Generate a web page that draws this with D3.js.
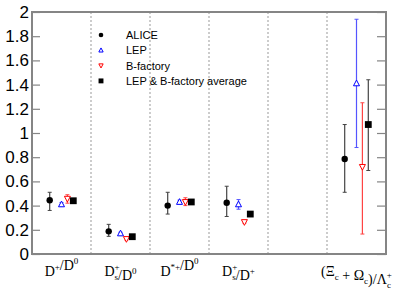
<!DOCTYPE html>
<html><head><meta charset="utf-8">
<script src="https://cdn.jsdelivr.net/npm/d3@7"></script>
<style>body{margin:0;background:#fff}</style>
</head><body><svg id="c" width="398" height="299"></svg>
<script>
const categories = ["D+/D0", "Ds+/D0", "D*+/D0", "Ds+/D+", "(Ξc+Ωc)/Λc+"];
const catSlot = [0, 1, 2, 3, 5];
const aliceVal = [0.444, 0.187, 0.40, 0.424, 0.785];
const aliceLo  = [0.36, 0.146, 0.33, 0.31, 0.51];
const aliceHi  = [0.51, 0.245, 0.51, 0.56, 1.07];
const lepVal = [0.41, 0.17, 0.43, 0.41, 1.41];
const lepLo  = [0.395, 0.16, 0.415, 0.37, 0.88];
const lepHi  = [0.425, 0.18, 0.445, 0.45, 1.94];
const bVal = [0.457, 0.124, 0.43, 0.264, 0.72];
const bLo  = [0.42, 0.115, 0.40, 0.255, 0.165];
const bHi  = [0.49, 0.135, 0.465, 0.275, 1.25];
const avgVal = [0.44, 0.143, 0.43, 0.33, 1.07];
const avgLo  = [0.432, 0.138, 0.422, 0.322, 0.69];
const avgHi  = [0.448, 0.148, 0.438, 0.338, 1.44];
const yTicks = [0, 0.2, 0.4, 0.6, 0.8, 1, 1.2, 1.4, 1.6, 1.8, 2];
const legendLabels = ["ALICE", "LEP", "B-factory", "LEP & B-factory average"];

const svg = d3.select("#c");
const L = 32, R = 386, T = 12, B = 254;
const x = d3.scaleLinear().domain([0, 6]).range([L, R]);
const y = d3.scaleLinear().domain([0, 2]).range([B, T]);
const frameCol = "#858585";

// dashed separators
svg.selectAll("line.sep").data([1,2,3,4,5]).join("line")
  .attr("x1", d => x(d)).attr("x2", d => x(d)).attr("y1", T).attr("y2", B)
  .attr("stroke", "#999").attr("stroke-width", 1).attr("stroke-dasharray", "2,2");

// axes ticks (left and mirrored right)
const gl = svg.append("g").attr("transform", `translate(${L},0)`);
gl.call(d3.axisRight(y).tickValues(d3.range(0, 2.001, 0.04)).tickSize(4).tickFormat(""));
gl.call(d3.axisRight(y).tickValues(yTicks).tickSize(8).tickFormat(""));
const gr = svg.append("g").attr("transform", `translate(${R},0)`);
gr.call(d3.axisLeft(y).tickValues(d3.range(0, 2.001, 0.04)).tickSize(4).tickFormat(""));
gr.call(d3.axisLeft(y).tickValues(yTicks).tickSize(9).tickFormat(""));
svg.selectAll(".domain").remove();
svg.selectAll(".tick line").attr("stroke", frameCol).attr("stroke-width", 1.2);

// frame
svg.append("rect").attr("x", L).attr("y", T).attr("width", R - L).attr("height", B - T)
  .attr("fill", "none").attr("stroke", frameCol).attr("stroke-width", 2);

// y labels
svg.selectAll("text.yl").data(yTicks).join("text")
  .attr("x", L - 3).attr("y", d => y(d) + 6)
  .attr("text-anchor", "end").attr("font-family", "Liberation Sans, Arial, sans-serif")
  .attr("font-size", 17).attr("fill", "#000")
  .text(d => d3.format("~g")(d));

// x labels (rich)
const serif = "Liberation Serif, Times New Roman, serif";
const xlab = [
  [["D",0],["+",1],["/D",0],["0",1]],
  [["D",0],["+",1,"s"],["/D",0],["0",1]],
  [["D",0],["*+",1],["/D",0],["0",1]],
  [["D",0],["+",1,"s"],["/D",0],["+",1]],
  [["(Ξ",0],["c",-1],[" + Ω",0],["c",-1],[")/Λ",0],["+",1,"c"]]
];
categories.forEach((c, i) => {
  const t = svg.append("text").attr("x", x(catSlot[i] + 0.5)).attr("y", 276)
    .attr("text-anchor", "middle").attr("font-family", serif).attr("font-size", 14).attr("fill", "#000");
  xlab[i].forEach(p => {
    const [s, k, sub] = p;
    if (k === 0) t.append("tspan").text(s);
    else if (k === 1 && sub) {
      t.append("tspan").attr("font-size", 9).attr("dy", -6).text(s);
      t.append("tspan").attr("font-size", 9).attr("dx", -5).attr("dy", 10).text(sub);
      t.append("tspan").attr("dy", -4).text("");
    } else if (k === 1) {
      t.append("tspan").attr("font-size", 9).attr("dy", -6).text(s);
      t.append("tspan").attr("dy", 6).text("");
    } else {
      t.append("tspan").attr("font-size", 9).attr("dy", 4).text(s);
      t.append("tspan").attr("dy", -4).text("");
    }
  });
});

// series
const series = [
  {v: aliceVal, lo: aliceLo, hi: aliceHi, off: -0.2, col: "#000", ecol: "#444", m: "circle"},
  {v: lepVal, lo: lepLo, hi: lepHi, off: 0, col: "#0000ff", ecol: "#5555ff", m: "tri"},
  {v: bVal, lo: bLo, hi: bHi, off: 0.1, col: "#ff0000", ecol: "#ff4444", m: "itri"},
  {v: avgVal, lo: avgLo, hi: avgHi, off: 0.2, col: "#000", ecol: "#444", m: "sq"}
];
function marker(g, m, cx, cy, col, k) {
  k = k || 1;
  if (m === "circle") g.append("circle").attr("cx", cx).attr("cy", cy).attr("r", 3.2 * k).attr("fill", col);
  else if (m === "sq") g.append("rect").attr("x", cx - 3.4 * k).attr("y", cy - 3.4 * k).attr("width", 6.8 * k).attr("height", 6.8 * k).attr("fill", col);
  else if (m === "tri") g.append("path").attr("d", `M${cx},${cy-3.3*k}L${cx+3*k},${cy+2.4*k}L${cx-3*k},${cy+2.4*k}Z`).attr("fill", "#fff").attr("stroke", col).attr("stroke-width", 1);
  else g.append("path").attr("d", `M${cx},${cy+3.3*k}L${cx+3*k},${cy-2.4*k}L${cx-3*k},${cy-2.4*k}Z`).attr("fill", "#fff").attr("stroke", col).attr("stroke-width", 1);
}
series.forEach(s => {
  const g = svg.append("g");
  s.v.forEach((v, i) => {
    const cx = x(catSlot[i] + 0.5 + s.off);
    g.append("line").attr("x1", cx).attr("x2", cx).attr("y1", y(s.lo[i])).attr("y2", y(s.hi[i]))
      .attr("stroke", s.ecol).attr("stroke-width", 1.2);
    [s.lo[i], s.hi[i]].forEach(e => g.append("line").attr("x1", cx - 2).attr("x2", cx + 2)
      .attr("y1", y(e)).attr("y2", y(e)).attr("stroke", s.ecol).attr("stroke-width", 1));
    marker(g, s.m, cx, y(v), s.col);
  });
});

// legend
legendLabels.forEach((lab, i) => {
  const ly = 35 + i * 15.3;
  marker(svg, series[i].m, 101, ly, series[i].col, 0.72);
  svg.append("text").attr("x", 126).attr("y", ly + 4).attr("font-family", "Liberation Sans, Arial, sans-serif")
    .attr("font-size", 11).attr("fill", "#000").text(lab);
});
</script></body></html>
